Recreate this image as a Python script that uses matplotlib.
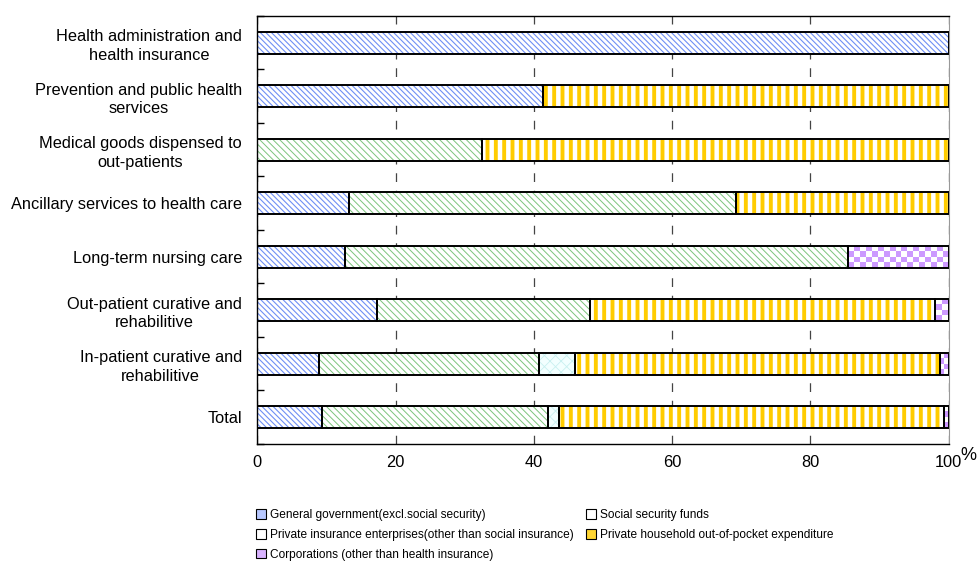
import numpy as np
import matplotlib
matplotlib.use("Agg")
import matplotlib.pyplot as plt
from matplotlib.patches import Patch
from matplotlib.colors import ListedColormap

plt.rcParams['font.family'] = ['Liberation Sans', 'DejaVu Sans']

categories = [
    "Health administration and\nhealth insurance",
    "Prevention and public health\nservices",
    "Medical goods dispensed to\nout-patients",
    "Ancillary services to health care",
    "Long-term nursing care",
    "Out-patient curative and\nrehabilitive",
    "In-patient curative and\nrehabilitive",
    "Total",
]

# shares in %
general_gov = [100.0, 41.3, 0.0, 13.3, 12.7, 17.3, 9.0, 9.3]
social_sec = [0.0, 0.0, 32.5, 55.9, 72.8, 30.9, 31.7, 32.7]
private_ins = [0.0, 0.0, 0.0, 0.0, 0.0, 0.0, 5.3, 1.6]
household = [0.0, 58.7, 67.5, 30.8, 0.0, 49.8, 52.7, 55.7]
corporations = [0.0, 0.0, 0.0, 0.0, 14.5, 2.0, 1.3, 0.7]

series_names = [
    "General government(excl.social security)",
    "Social security funds",
    "Private insurance enterprises(other than social insurance)",
    "Private household out-of-pocket expenditure",
    "Corporations (other than health insurance)",
]

xticks = [0, 20, 40, 60, 80, 100]

fig = plt.figure(figsize=(9.78, 5.87), dpi=100)
ax = fig.add_axes([0.263, 0.2436, 0.707, 0.7294])

y = np.arange(len(categories))
bar_h = 0.41

styles = [
    dict(face="white", hatch="\\" * 6, hcolor="#6F8FF5", hlw=0.8),
    dict(face="white", hatch="\\" * 5, hcolor="#7CC47C", hlw=0.7),
    dict(face="#F2FFFF", hatch="xxx", hcolor="#C8F0F0", hlw=0.6),
    dict(face="white", hatch="||", hcolor="#FFCC00", hlw=2.8),
    None,  # checkerboard
]

data = [general_gov, social_sec, private_ins, household, corporations]
checker_cmap = ListedColormap(["white", "#CC99FF"])

left = np.zeros(len(categories))
for vals, st in zip(data, styles):
    vals = np.array(vals)
    mask = vals > 0
    if st is not None:
        bars = ax.barh(y[mask], vals[mask], left=left[mask], height=bar_h,
                       color=st["face"], edgecolor=st["hcolor"], hatch=st["hatch"],
                       linewidth=0, zorder=2)
        for b in bars:
            if hasattr(b, "set_hatch_linewidth"):
                b.set_hatch_linewidth(st["hlw"])
    else:
        for yi, l, w in zip(y[mask], left[mask], vals[mask]):
            ncol = max(1, int(round(w / 0.85)))
            nrow = 4
            grid = (np.add.outer(np.arange(nrow), np.arange(ncol)) % 2).astype(float)
            ax.imshow(grid, cmap=checker_cmap, vmin=0, vmax=1, aspect="auto",
                      interpolation="nearest",
                      extent=(l, l + w, yi + bar_h / 2, yi - bar_h / 2), zorder=2)
    ax.barh(y[mask], vals[mask], left=left[mask], height=bar_h, fill=False,
            edgecolor="black", linewidth=1.4, zorder=3)
    left += vals

ax.set_xlim(0, 100)
ax.set_ylim(len(categories) - 0.5, -0.5)
ax.set_xticks(xticks)
ax.set_yticks(y)
ax.set_yticklabels(categories, multialignment="center", linespacing=1.3)
ax.set_yticks(np.arange(len(categories) + 1) - 0.5, minor=True)
ax.tick_params(axis="y", which="major", length=0, pad=11, labelsize=11.8)
ax.tick_params(axis="y", which="minor", direction="in", length=5, width=1)
ax.tick_params(axis="x", direction="in", length=0, pad=8, labelsize=11.8)

ax.grid(axis="x", color="#444444", linestyle=(0, (7, 7)), linewidth=0.9, zorder=1)
ax.set_axisbelow(True)
for s in ["left", "bottom", "top"]:
    ax.spines[s].set_color("black")
    ax.spines[s].set_linewidth(1.0)
ax.spines["right"].set_color("#999999")

fig.text(968 / 978, 1 - 455 / 587, "%", fontsize=13, ha="center", va="center")

handles = [
    Patch(facecolor="#B8C8FF", edgecolor="black", linewidth=0.8),
    Patch(facecolor="white", edgecolor="black", linewidth=0.8),
    Patch(facecolor="white", edgecolor="black", linewidth=0.8),
    Patch(facecolor="#FFD633", edgecolor="black", linewidth=0.8),
    Patch(facecolor="#D9B3FF", edgecolor="black", linewidth=0.8),
]
# legend fills by column; reorder so it reads row by row
order = [0, 2, 4, 1, 3]
fig.legend([handles[i] for i in order], [series_names[i] for i in order],
           loc="upper left", bbox_to_anchor=(256 / 978, 1 - 509 / 587),
           ncol=2, frameon=False, fontsize=8.6,
           handlelength=0.85, handleheight=0.85, handletextpad=0.35,
           labelspacing=0.66, columnspacing=1.0, borderpad=0, borderaxespad=0)

fig.savefig("out.png", dpi=100)
